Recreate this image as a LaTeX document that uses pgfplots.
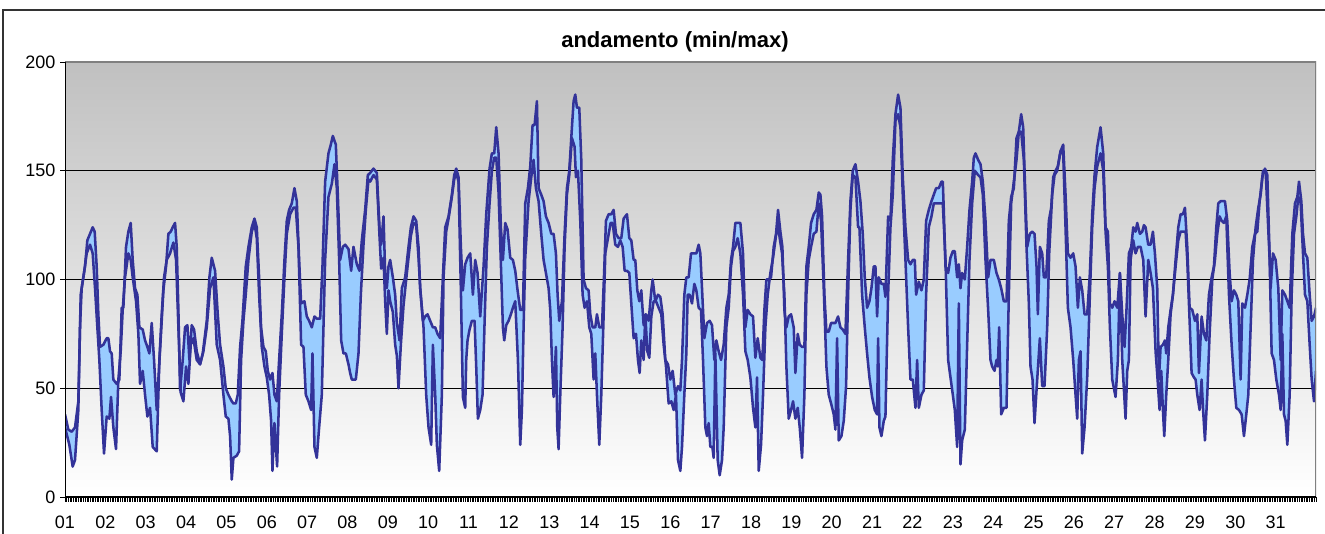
\documentclass[border=0pt]{standalone}
\usepackage{fontspec}
\setmainfont{Liberation Sans}
\usepackage{pgfplots}
\pgfplotsset{compat=1.18}
\usepgfplotslibrary{fillbetween}
\definecolor{navyline}{RGB}{51,51,153}
\definecolor{fillblue}{RGB}{153,204,255}
\definecolor{bordergray}{RGB}{128,128,128}
\definecolor{topgray}{RGB}{192,192,192}
\begin{document}
\begin{tikzpicture}
\begin{axis}[
  at={(48.75pt,27.75pt)}, anchor=south west,
  scale only axis, width=938.25pt, height=326.25pt,
  xmin=0, xmax=3751, ymin=0, ymax=200,
  ytick={0,50,100,150,200},
  xtick={0,121,242,363,484,605,726,847,968,1089,1210,1331,1452,1573,1694,1815,1936,2057,2178,2299,2420,2541,2662,2783,2904,3025,3146,3267,3388,3509,3630,3751},
  xticklabels={01,02,03,04,05,06,07,08,09,10,11,12,13,14,15,16,17,18,19,20,21,22,23,24,25,26,27,28,29,30,31,{}},
  minor x tick num=23,
  xtick pos=left, ytick pos=left,
  tick align=outside,
  major tick length=3.75pt, minor tick length=3.75pt,
  tick style={black, line width=0.5pt},
  ymajorgrids, grid style={black, line width=0.7pt},
  axis line style={draw=none},
  axis background/.style={top color=topgray, bottom color=white},
  tick label style={font=\fontsize{13.5}{16}\selectfont},
  /pgf/number format/assume math mode=true,
  xticklabel style={yshift=-7pt},
]
\addplot[navyline, line width=1.9pt, line join=round, name path=upper] coordinates {
(0,38)(10,31)(20,30)(30,32)(40,44)(45,78)(50,96)(60,106)(67,118)(75,121)(83,124)(89,122)(95,106)(100,84)(105,69)(115,70)(125,73)(130,73)(135,67)(140,66)(145,54)(155,52)(163,54)(170,87)(175,87)(183,115)(190,122)(197,126)(203,109)(210,96)(217,93)(223,78)(233,77)(240,72)(247,69)(253,66)(260,80)(267,63)(275,40)(280,54)(290,81)(295,95)(303,106)(310,121)(317,122)(323,124)(330,126)(335,115)(340,86)(345,49)(353,63)(360,78)(367,79)(373,63)(380,79)(387,77)(395,67)(405,61)(413,66)(425,81)(433,101)(440,110)(450,104)
(458,84)(465,70)(475,60)(482,50)(490,47)(500,44)(505,43)(512,43)(518,47)(525,69)(532,81)(542,106)(550,115)(560,124)(568,128)(575,124)(582,101)(588,78)(595,69)(602,67)(608,58)(615,54)(622,57)(628,47)(635,44)(642,63)(650,84)(658,109)(665,127)(672,132)(680,135)(688,142)(695,136)(702,109)(708,89)(718,90)(725,83)(732,81)(740,78)(748,83)(755,82)(765,82)(772,106)(780,145)(790,158)(797,162)(803,166)(812,162)(818,139)(825,109)(833,115)(840,116)(850,114)(858,104)(865,115)(875,107)(883,104)(890,118)(900,132)(908,148)
(915,149)(925,151)(935,149)(943,124)(948,116)(955,129)(960,103)(965,96)(970,106)(975,109)(983,101)(990,93)(995,80)(1003,72)(1010,96)(1020,101)(1030,115)(1037,124)(1045,129)(1053,127)(1060,115)(1065,96)(1073,81)(1080,83)(1087,84)(1095,81)(1103,78)(1110,78)(1117,75)(1125,73)(1133,101)(1140,124)(1150,129)(1160,139)(1167,148)(1173,151)(1180,147)(1187,115)(1193,95)(1200,107)(1207,110)(1215,112)(1223,93)(1230,109)(1237,103)(1245,83)(1255,106)(1263,130)(1273,151)(1280,158)(1287,158)(1293,170)(1300,158)(1307,124)(1313,109)(1320,126)(1327,123)(1335,110)(1343,109)(1350,104)(1357,95)(1365,86)(1373,86)(1380,135)
(1388,142)(1395,152)(1402,171)(1408,171)(1415,182)(1420,142)(1428,139)(1435,136)(1442,129)(1450,126)(1458,121)(1465,121)(1472,112)(1477,93)(1482,81)(1490,90)(1498,121)(1505,142)(1512,150)(1520,170)(1525,182)(1530,185)(1535,179)(1542,179)(1548,155)(1555,100)(1562,96)(1570,95)(1575,84)(1582,78)(1590,78)(1595,84)(1602,78)(1610,78)(1616,101)(1622,127)(1630,130)(1638,130)(1645,132)(1652,121)(1660,119)(1668,119)(1675,128)(1685,130)(1692,119)(1698,118)(1705,109)(1710,109)(1716,95)(1722,90)(1728,95)(1735,79)(1742,84)(1750,81)(1758,95)(1762,100)(1770,90)(1778,93)(1785,92)(1792,84)(1800,63)(1808,61)(1815,54)(1822,58)(1830,47)(1838,51)
(1845,49)(1850,63)(1857,93)(1863,101)(1870,101)(1877,112)(1885,112)(1893,112)(1900,116)(1905,112)(1910,96)(1917,73)(1925,80)(1933,81)(1940,79)(1947,63)(1953,72)(1960,67)(1967,63)(1975,70)(1983,87)(1990,93)(1997,109)(2003,115)(2010,126)(2017,126)(2025,126)(2033,112)(2040,78)(2047,86)(2055,84)(2063,83)(2070,64)(2077,73)(2085,64)(2091,63)(2097,86)(2103,100)(2110,100)(2117,101)(2125,115)(2132,121)(2138,132)(2145,122)(2151,115)(2157,86)(2163,78)(2170,83)(2177,84)(2185,78)(2190,57)(2197,75)(2203,70)(2210,69)(2217,69)(2223,106)(2230,115)(2237,126)(2245,130)(2253,132)(2260,140)(2265,139)(2270,129)(2277,93)(2283,76)(2290,76)(2297,80)(2305,80)
(2310,80)(2318,83)(2325,78)(2332,77)(2340,75)(2348,109)(2355,136)(2362,150)(2370,153)(2378,145)(2385,136)(2392,121)(2398,101)(2405,87)(2412,90)(2418,96)(2425,106)(2430,106)(2435,83)(2440,101)(2448,98)(2455,98)(2460,92)(2468,129)(2475,127)(2482,155)(2490,176)(2498,185)(2505,179)(2512,147)(2520,124)(2528,109)(2535,107)(2542,109)(2548,109)(2552,93)(2560,99)(2568,95)(2575,100)(2582,127)(2590,132)(2598,136)(2605,139)(2612,142)(2620,142)(2628,145)(2632,145)(2635,132)(2640,106)(2648,103)(2655,110)(2662,113)(2668,113)(2675,101)(2680,107)(2685,96)(2690,103)(2698,100)(2705,115)(2712,132)(2720,145)(2725,156)(2730,158)(2738,155)(2745,153)(2752,145)(2760,127)(2768,101)
(2775,109)(2785,109)(2793,103)(2800,100)(2807,96)(2815,90)(2823,90)(2830,127)(2837,138)(2845,142)(2853,165)(2860,168)(2867,176)(2873,170)(2880,136)(2885,115)(2893,121)(2900,122)(2907,121)(2913,106)(2917,84)(2923,115)(2930,112)(2935,101)(2942,101)(2950,127)(2957,133)(2963,147)(2970,150)(2977,152)(2985,159)(2993,162)(3000,139)(3007,112)(3015,110)(3023,112)(3030,106)(3037,87)(3043,101)(3050,95)(3057,84)(3065,84)(3073,103)(3080,130)(3087,148)(3095,161)(3105,170)(3113,158)(3120,124)(3127,122)(3133,89)(3140,87)(3147,90)(3155,87)(3163,103)(3170,84)(3177,69)(3183,87)(3190,112)(3197,115)(3203,124)(3210,122)(3215,126)(3223,121)(3230,122)(3235,125)
(3240,124)(3248,116)(3255,116)(3262,122)(3268,112)(3275,96)(3280,54)(3285,69)(3292,70)(3298,72)(3302,66)(3308,78)(3315,86)(3322,93)(3330,109)(3338,124)(3345,130)(3352,130)(3358,133)(3365,115)(3372,87)(3380,86)(3388,81)(3395,84)(3400,57)(3408,83)(3415,75)(3422,72)(3430,93)(3438,101)(3445,106)(3452,124)(3458,135)(3465,136)(3472,136)(3478,136)(3485,127)(3492,103)(3498,90)(3505,95)(3512,93)(3518,90)(3525,54)(3530,89)(3538,87)(3545,93)(3552,100)(3560,115)(3568,121)(3575,122)(3582,136)(3590,147)(3598,151)(3605,148)(3610,121)(3615,96)(3622,112)(3630,109)(3638,96)(3645,63)(3650,95)(3658,93)(3665,90)(3672,87)(3680,121)(3688,135)(3695,138)(3700,145)(3707,136)(3712,121)(3718,112)(3725,110)(3732,93)(3738,81)(3745,83)(3751,87)
};
\addplot[navyline, line width=1.9pt, line join=round, name path=lower] coordinates {
(0,32)(13,24)(23,14)(30,17)(40,40)(47,93)(57,103)(65,112)(75,116)(83,112)(90,96)(97,78)(103,63)(110,40)(117,20)(125,37)(133,36)(138,46)(145,32)(153,22)(160,54)(167,67)(173,86)(180,101)(190,112)(197,109)(203,101)(213,90)(220,75)(225,52)(233,58)(240,47)(247,37)(255,41)(263,23)(275,21)(283,63)(290,84)(297,101)(305,109)(315,112)(325,117)(333,109)(340,78)(347,48)(355,44)(363,60)(370,52)(377,70)(385,73)(395,63)(405,61)(415,67)(425,78)(435,96)(445,101)
(455,70)(465,63)(475,47)(482,37)(490,36)(495,28)(500,8)(505,18)(515,19)(522,21)(528,63)(535,81)(542,93)(550,109)(560,122)(568,126)(575,119)(582,93)(590,69)(598,60)(605,55)(612,47)(618,35)(622,12)(628,34)(636,14)(642,47)(650,75)(658,101)(665,121)(675,130)(685,133)(692,133)(700,115)(708,70)(715,69)(722,47)(730,44)(738,40)(742,66)(748,23)(755,18)(762,32)(770,47)(780,109)(790,138)(800,144)(808,153)(815,142)(822,109)(828,72)(835,66)(842,66)(850,61)(855,57)(860,54)(872,54)(880,66)(887,93)(895,116)(902,132)(910,146)
(915,145)(925,148)(935,146)(943,120)(948,105)(955,110)(960,90)(965,75)(970,95)(975,90)(983,85)(990,70)(995,65)(1000,50)(1007,70)(1015,88)(1023,100)(1030,110)(1037,120)(1045,126)(1053,125)(1060,110)(1065,96)(1075,78)(1083,47)(1090,32)(1098,24)(1103,70)(1110,47)(1115,24)(1122,12)(1130,47)(1135,101)(1143,122)(1150,128)(1160,138)(1167,146)(1173,149)(1180,145)(1187,95)(1193,46)(1200,41)(1203,63)(1207,72)(1213,77)(1220,81)(1228,81)(1233,60)(1238,36)(1245,40)(1252,47)(1258,80)(1265,115)(1273,135)(1280,150)(1287,156)(1293,156)(1300,140)(1307,107)(1313,78)(1317,72)(1323,79)(1330,81)(1337,84)(1343,87)(1350,90)(1358,63)(1365,24)(1370,40)(1375,78)
(1380,110)(1390,136)(1398,147)(1405,155)(1412,142)(1420,136)(1428,121)(1435,109)(1442,103)(1450,96)(1455,86)(1460,63)(1465,46)(1472,69)(1476,32)(1480,22)(1485,47)(1492,78)(1498,115)(1505,139)(1512,148)(1520,165)(1528,161)(1532,147)(1538,150)(1545,127)(1552,93)(1558,87)(1565,90)(1572,78)(1578,75)(1585,54)(1590,66)(1595,47)(1602,24)(1608,47)(1614,78)(1620,112)(1628,119)(1636,126)(1642,126)(1650,116)(1658,115)(1665,118)(1672,115)(1678,104)(1685,104)(1692,103)(1698,89)(1705,73)(1712,75)(1718,63)(1723,57)(1728,72)(1735,63)(1740,84)(1746,67)(1752,64)(1758,83)(1765,90)(1772,90)(1780,87)(1788,84)(1795,70)(1802,60)(1810,43)(1818,44)(1825,40)(1832,47)(1838,17)
(1845,12)(1850,23)(1857,47)(1863,66)(1867,93)(1873,93)(1880,89)(1887,98)(1893,95)(1900,87)(1907,86)(1913,63)(1920,32)(1925,28)(1930,34)(1935,23)(1941,23)(1945,18)(1950,66)(1957,17)(1963,10)(1970,17)(1975,32)(1983,78)(1990,87)(1997,106)(2003,113)(2010,115)(2017,119)(2025,112)(2033,93)(2040,67)(2047,63)(2055,55)(2063,41)(2070,32)(2075,55)(2080,12)(2087,24)(2093,47)(2100,78)(2107,93)(2115,103)(2123,110)(2130,118)(2137,126)(2143,119)(2150,112)(2157,93)(2163,60)(2170,36)(2177,40)(2183,44)(2190,36)(2197,41)(2203,32)(2210,18)(2217,47)(2223,93)(2230,109)(2237,115)(2245,121)(2253,122)(2260,135)(2267,127)(2275,96)(2283,60)(2290,47)(2297,43)(2305,38)
(2310,31)(2315,73)(2320,26)(2328,28)(2335,35)(2342,51)(2348,93)(2355,132)(2362,148)(2370,147)(2378,124)(2382,124)(2390,93)(2398,78)(2405,66)(2412,55)(2420,46)(2428,40)(2435,38)(2438,73)(2442,32)(2448,28)(2455,35)(2460,37)(2468,93)(2475,124)(2482,139)(2490,173)(2498,176)(2505,170)(2512,139)(2520,109)(2528,78)(2535,54)(2542,54)(2550,41)(2555,63)(2560,41)(2568,47)(2575,49)(2582,93)(2590,124)(2598,129)(2605,135)(2615,135)(2625,135)(2632,135)(2640,109)(2648,63)(2655,55)(2662,47)(2668,40)(2675,23)(2680,89)(2685,15)(2690,26)(2698,31)(2705,70)(2712,109)(2720,135)(2728,150)(2738,148)(2745,147)(2752,139)(2760,109)(2768,86)
(2775,63)(2780,60)(2787,58)(2793,63)(2797,60)(2801,78)(2807,38)(2815,41)(2823,41)(2830,93)(2837,135)(2845,145)(2853,155)(2860,168)(2867,168)(2875,155)(2883,115)(2890,89)(2895,60)(2901,54)(2907,34)(2913,49)(2923,73)(2930,51)(2937,51)(2945,78)(2951,112)(2960,139)(2967,148)(2975,150)(2985,159)(2993,158)(3000,124)(3007,87)(3015,78)(3023,63)(3030,47)(3035,36)(3040,63)(3045,67)(3050,20)(3057,32)(3065,55)(3073,93)(3080,124)(3087,142)(3095,152)(3105,158)(3113,150)(3120,122)(3127,106)(3133,78)(3140,54)(3150,46)(3157,63)(3163,103)(3170,63)(3180,36)(3185,58)(3190,63)(3195,109)(3203,118)(3210,112)(3217,115)(3225,115)(3233,109)
(3240,83)(3248,109)(3255,103)(3262,96)(3270,67)(3276,54)(3282,40)(3287,58)(3292,40)(3296,28)(3302,47)(3308,63)(3315,84)(3322,93)(3330,106)(3338,118)(3345,122)(3352,122)(3360,122)(3365,109)(3372,81)(3378,57)(3385,55)(3390,54)(3395,47)(3402,40)(3408,54)(3412,41)(3418,26)(3425,47)(3432,75)(3440,100)(3448,109)(3455,121)(3462,129)(3468,127)(3475,126)(3482,129)(3490,93)(3498,70)(3505,54)(3512,41)(3520,40)(3528,38)(3535,28)(3542,38)(3548,47)(3555,78)(3562,109)(3570,124)(3578,133)(3585,139)(3592,150)(3600,150)(3605,133)(3612,109)(3618,66)(3625,63)(3632,54)(3640,47)(3645,40)(3650,75)(3655,38)(3660,35)(3665,24)(3672,47)(3678,93)(3685,121)(3692,129)(3698,138)(3705,135)(3712,112)(3718,93)(3725,90)(3732,70)(3738,54)(3745,44)(3751,58)
};
\addplot[fillblue] fill between[of=upper and lower];
\draw[bordergray, line width=1.4pt] (rel axis cs:0,1) -- (rel axis cs:1,1) -- (rel axis cs:1,0);
\draw[black, line width=1.1pt] (rel axis cs:0,1) -- (rel axis cs:0,0) -- (rel axis cs:1,0);
\end{axis}
\draw[line width=1.4pt, color=black!80] (2.25pt,-5pt) -- (2.25pt,393pt) -- (995pt,393pt);
\node[font=\fontsize{16.5}{19}\selectfont\bfseries] at (506.25pt,369.4pt) {andamento (min/max)};
\pgfresetboundingbox
\useasboundingbox (0,0) rectangle (993.75pt,400.5pt);
\end{tikzpicture}
\end{document}
